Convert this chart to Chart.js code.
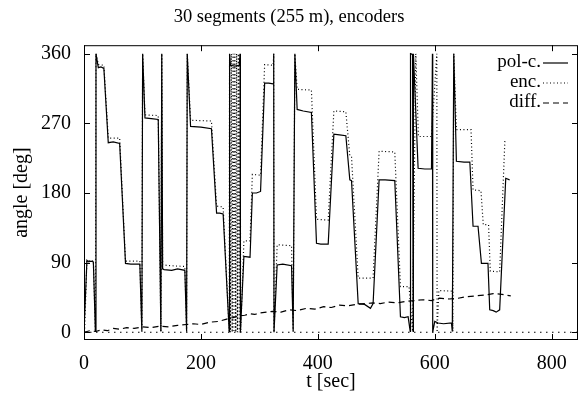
<!DOCTYPE html>
<html>
<head>
<meta charset="utf-8">
<script src="https://cdn.jsdelivr.net/npm/chart.js@4.4.1/dist/chart.umd.min.js"></script>
<style>
  html, body { margin: 0; padding: 0; background: #fff; }
</style>
</head>
<body>
<canvas id="myChart" width="579" height="397"></canvas>
<script>
// values (t in sec, angle in deg)
const xTicks = [0, 200, 400, 600, 800];
const yTicks = [0, 90, 180, 270, 360];

const polcT = [0, 1, 5, 8, 12, 16, 19.5, 20.5, 24.5, 29, 34, 41.5, 50, 61, 71, 80, 95.5, 99, 100.3, 104.3,
  115, 127, 131.5, 133, 134.5, 137, 150, 160, 172.5, 175.5, 176.6, 182.3, 200, 218, 226.8, 232, 238, 248.4,
  249, 250.5, 258, 265.5, 267, 267.5, 273.5, 284, 288, 295, 302, 309, 316, 323.6, 324.5, 325, 330.4, 340,
  355, 357.8, 360.7, 364.6, 375, 389, 397.7, 405, 417.7, 427.4, 437, 447.9, 454.7, 457.6, 469, 480, 490,
  494.5, 504.8, 515, 531.6, 541.3, 548, 554.4, 558, 558.5, 562, 563, 563.5, 571.5, 583, 594.4, 596, 596.5,
  600, 605.7, 615, 628.5, 630, 632.5, 637, 650, 660, 665.5, 674, 679.8, 691, 694, 700, 705, 711, 721.4, 728];
const polcDeg = [1, 1, 93, 91, 92, 91, 1, 360, 342, 343, 341, 245, 246, 244, 89, 88, 88, 1, 360, 277,
  276, 275, 1, 360, 82, 81, 80, 82, 80, 1, 360, 266, 265, 263, 154, 154, 153, 1,
  360, 345, 344, 345, 360, 0, 98, 97, 180, 180, 182, 322, 322, 321, 360, 0, 87, 88,
  86, 1, 360, 288, 286, 284, 115, 114, 114, 256, 255, 254, 197, 196, 37, 36, 31,
  37, 197, 197, 196, 20, 19, 20, 1, 360, 359, 1, 360, 212, 211, 211, 360, 0,
  14, 12, 11, 12, 1, 360, 221, 220, 220, 137, 137, 89, 89, 29, 28, 26, 29, 199, 197];

const encT = [0, 1, 5, 16, 19.5, 20.5, 24.5, 34, 41.5, 61, 71, 95.5, 99, 100.3, 104.3, 127, 131.5, 133, 134.5,
  150, 172.5, 175.5, 176.6, 182.3, 218, 226.8, 238, 248.4,
  249, 250.5, 252, 253.5, 255, 256.5, 258, 259.5, 261, 262.5, 264, 265.5, 267, 268,
  273.5, 284, 288, 302, 309, 323.6, 324.5, 325, 330.4, 355, 357.8, 360.7, 364.6, 389, 397.7, 417.7,
  427.4, 447.9, 454.7, 457.6, 469, 494.5, 504.8, 531.6, 541.3, 556, 562, 567.5, 572, 594.4, 603.5, 604,
  607, 630, 631, 632.5, 637, 662, 665.5, 679, 683, 692, 695, 711, 720];
const encDeg = [1, 1, 93, 92, 1, 360, 346, 345, 251, 251, 92, 92, 1, 360, 281, 280, 1, 360, 87,
  86, 85, 1, 360, 274, 273, 163, 162, 1,
  360, 0, 360, 0, 360, 0, 360, 0, 360, 0, 360, 0, 360, 0,
  118, 118, 204, 203, 346, 345, 360, 0, 113, 112, 1, 360, 314, 313, 146, 145,
  286, 285, 228, 227, 70, 70, 234, 233, 59, 59, 1, 360, 253, 253, 360, 0,
  54, 53, 1, 360, 262, 262, 184, 183, 139, 139, 79, 78, 249];

const diffT = [0, 10, 20, 30, 40, 50, 62, 73, 86, 100, 115, 130, 145, 160, 175, 187, 200, 215, 230, 244,
  255, 265, 275, 284, 292, 300, 312, 323, 337, 350, 365, 381, 395, 410, 423, 437, 451, 465, 480, 494,
  507, 520, 535, 551, 565, 580, 594, 608, 624, 640, 655, 670, 685, 700, 715, 730];
const diffDeg = [0, 2, 1, 3, 2, 5, 4, 6, 5, 7, 6, 8, 7, 9, 10, 11, 10, 13, 14, 17,
  19, 21, 22, 24, 23, 25, 26, 27, 26, 29, 28, 31, 30, 33, 32, 35, 34, 36, 37, 38,
  37, 39, 38, 40, 41, 42, 41, 44, 43, 44, 46, 47, 48, 50, 49, 47];

const zeroT = [0, 845];
const zeroDeg = [0, 0];

const toPoints = (ts, vs) => ts.map((t, i) => ({ x: t, y: vs[i] }));

const serif = 'Liberation Serif';
const black = '#000';

// gnuplot style frame, inward ticks and the key inside the plot
const framePlugin = {
  id: 'frame',
  afterDatasetsDraw(chart) {
    const { ctx, chartArea: a } = chart;
    const xs = chart.scales.x;
    const ys = chart.scales.y;
    ctx.save();
    ctx.strokeStyle = black;
    ctx.lineWidth = 1;
    ctx.setLineDash([]);
    ctx.strokeRect(a.left + 0.5, a.top + 0.5, a.right - a.left - 1, a.bottom - a.top - 1);
    ctx.beginPath();
    xTicks.forEach((v) => {
      const px = Math.round(xs.getPixelForValue(v)) + 0.5;
      ctx.moveTo(px, a.bottom); ctx.lineTo(px, a.bottom - 6);
      ctx.moveTo(px, a.top); ctx.lineTo(px, a.top + 6);
    });
    yTicks.forEach((v) => {
      const py = Math.round(ys.getPixelForValue(v)) + 0.5;
      ctx.moveTo(a.left, py); ctx.lineTo(a.left + 6, py);
      ctx.moveTo(a.right, py); ctx.lineTo(a.right - 6, py);
    });
    ctx.stroke();

    // key
    ctx.font = '19px "' + serif + '"';
    ctx.fillStyle = black;
    ctx.textAlign = 'right';
    ctx.textBaseline = 'middle';
    const textRight = 541;
    const lineL = 543, lineR = 568;
    chart.data.datasets.slice(0, 3).forEach((ds, i) => {
      const yy = 62.5 + i * 20;
      ctx.fillText(ds.label, textRight, yy);
      ctx.beginPath();
      ctx.lineWidth = ds.borderWidth;
      ctx.setLineDash(ds.borderDash || []);
      ctx.moveTo(lineL, yy + 0.5);
      ctx.lineTo(lineR, yy + 0.5);
      ctx.stroke();
    });
    ctx.restore();
  }
};

const data = {
  datasets: [
    {
      label: 'pol-c.',
      data: toPoints(polcT, polcDeg),
      borderColor: black,
      borderWidth: 1.2,
      pointRadius: 0
    },
    {
      label: 'enc.',
      data: toPoints(encT, encDeg),
      borderColor: black,
      borderWidth: 1.2,
      borderDash: [1, 2.5],
      pointRadius: 0
    },
    {
      label: 'diff.',
      data: toPoints(diffT, diffDeg),
      borderColor: black,
      borderWidth: 1.2,
      borderDash: [6, 4],
      pointRadius: 0
    },
    {
      label: 'zero',
      data: toPoints(zeroT, zeroDeg),
      borderColor: black,
      borderWidth: 1.2,
      borderDash: [1.5, 4.5],
      pointRadius: 0
    }
  ]
};

const tickFont = { family: serif, size: 20 };

const config = {
  type: 'line',
  data: data,
  options: {
    responsive: false,
    animation: false,
    layout: { padding: { right: 1 } },
    plugins: {
      legend: { display: false },
      tooltip: { enabled: false },
      title: {
        display: true,
        text: '30 segments (255 m), encoders',
        color: black,
        font: { family: serif, size: 18.5, weight: 'normal' },
        padding: { top: 6, bottom: 17 }
      }
    },
    scales: {
      x: {
        type: 'linear',
        min: 0,
        max: 845,
        afterBuildTicks: (s) => { s.ticks = xTicks.map((v) => ({ value: v })); },
        afterFit: (s) => { s.height = 57; },
        grid: { display: false, drawTicks: false },
        border: { display: false },
        ticks: { font: tickFont, color: black, padding: 12, maxRotation: 0 },
        title: { display: true, text: 't [sec]', color: black, font: tickFont, padding: { top: 0, bottom: 3 } }
      },
      y: {
        type: 'linear',
        min: -10,
        max: 371,
        afterBuildTicks: (s) => { s.ticks = yTicks.map((v) => ({ value: v })); },
        afterFit: (s) => { s.width = 84; },
        grid: { display: false, drawTicks: false },
        border: { display: false },
        ticks: { font: tickFont, color: black, padding: 13 },
        title: { display: true, text: 'angle [deg]', color: black, font: tickFont, padding: { top: 10, bottom: 0 } }
      }
    }
  },
  plugins: [framePlugin]
};

const ctx = document.getElementById('myChart');
const myChart = new Chart(ctx, config);
</script>
</body>
</html>
